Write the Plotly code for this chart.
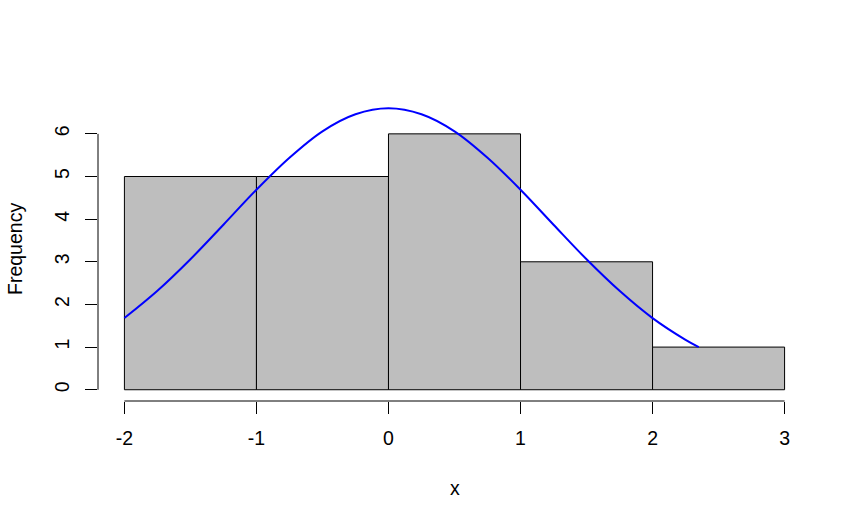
import plotly.graph_objects as go

# Histogram data
bin_mids = [-1.5, -0.5, 0.5, 1.5, 2.5]
counts = [5, 5, 6, 3, 1]
bin_width = 1

# Normal curve overlay
curve_x = [-2.0, -1.75, -1.5, -1.25, -1.0, -0.75, -0.5, -0.25, 0.0,
           0.25, 0.5, 0.75, 1.0, 1.25, 1.5, 1.75, 2.0, 2.25, 2.35]
curve_y = [1.68, 2.32, 3.06, 3.87, 4.69, 5.44, 6.06, 6.46, 6.60,
           6.46, 6.06, 5.44, 4.69, 3.87, 3.06, 2.32, 1.68, 1.17, 1.00]

x_ticks = [-2, -1, 0, 1, 2, 3]
y_ticks = [0, 1, 2, 3, 4, 5, 6]

FONT = "Liberation Sans, Arial, sans-serif"
FS = 19.5

fig = go.Figure()
fig.add_trace(go.Bar(
    x=bin_mids, y=counts, width=bin_width,
    marker=dict(color="#BEBEBE", line=dict(color="black", width=1)),
    hoverinfo="skip",
))
fig.add_trace(go.Scatter(
    x=curve_x, y=curve_y, mode="lines",
    line=dict(color="blue", width=2, shape="spline"),
    hoverinfo="skip",
))

# R-style detached axis lines spanning only tick range
fig.add_shape(type="line", xref="x", yref="paper",
              x0=x_ticks[0], x1=x_ticks[-1], y0=0, y1=0,
              line=dict(color="black", width=1))
fig.add_shape(type="line", xref="paper", yref="y",
              x0=0, x1=0, y0=y_ticks[0], y1=y_ticks[-1],
              line=dict(color="black", width=1))

fig.add_annotation(text="Frequency", xref="paper", yref="paper",
                   x=0, y=0.5, xanchor="center", yanchor="middle",
                   xshift=-83, textangle=-90, showarrow=False,
                   font=dict(family=FONT, size=FS, color="black"))
fig.add_annotation(text="x", xref="paper", yref="paper",
                   x=0.5, y=0, xanchor="center", yanchor="middle",
                   yshift=-87, showarrow=False,
                   font=dict(family=FONT, size=FS, color="black"))

fig.update_layout(
    width=862, height=525,
    margin=dict(l=98, r=51, t=97, b=124),
    paper_bgcolor="white", plot_bgcolor="white",
    showlegend=False,
    bargap=0,
    font=dict(family=FONT, size=FS, color="black"),
    xaxis=dict(range=[-2.2, 3.2], tickvals=x_ticks, ticktext=[str(v) for v in x_ticks],
               ticks="outside", ticklen=12, tickwidth=1, tickcolor="black",
               showgrid=False, zeroline=False, showline=False,
               ticklabelstandoff=8,
               tickfont=dict(family=FONT, size=FS, color="black")),
    yaxis=dict(range=[-0.264, 6.864], tickvals=y_ticks, ticktext=[str(v) for v in y_ticks],
               ticks="outside", ticklen=12, tickwidth=1, tickcolor="black",
               showgrid=False, zeroline=False, showline=False,
               tickangle=-90, ticklabelstandoff=8,
               tickfont=dict(family=FONT, size=FS, color="black")),
)

fig.write_html("out.html",
               config={"displayModeBar": False, "staticPlot": True},
               post_script="document.body.style.margin='0';document.body.style.overflow='hidden';")
